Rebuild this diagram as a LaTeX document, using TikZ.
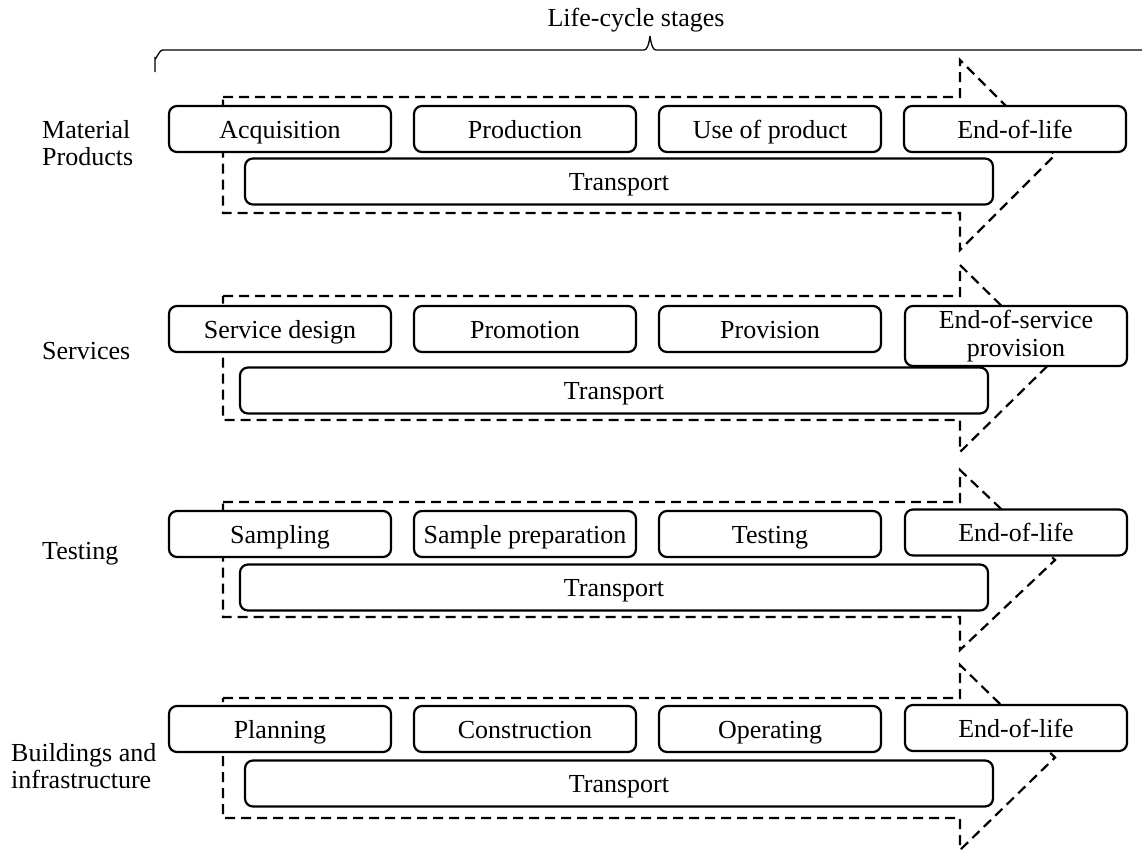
\documentclass[tikz,border=0pt]{standalone}
\usepackage{fontspec}
\setmainfont{Liberation Serif}
\usetikzlibrary{positioning}

\begin{document}
\begin{tikzpicture}[x=1pt,y=-1pt,node distance=23pt,
  stage/.style={draw,fill=white,rounded corners=8pt,line width=2.2pt,
    minimum width=222pt,minimum height=46pt,inner sep=2pt,outer sep=0pt,
    text height=21pt,text depth=3pt,
    font=\fontsize{26}{28}\selectfont},
  transport/.style={stage,minimum width=748pt},
  sector/.style={anchor=west,align=left,inner sep=0pt,
    font=\fontsize{26}{27}\selectfont}]

  \tikzstyle{lcarrow} = [draw,line width=2.2pt,dash pattern=on 10pt off 6pt]

  \useasboundingbox (0,0) rectangle (1142,854);

  % dashed block arrows, one per row
  \foreach \ya/\yb/\yc/\yd in {97/213/60/250, 296/420/265/452,
                               502/617/470/650, 698/818/665/850}
    \path[lcarrow] (223,\ya) -- (960,\ya) -- (960,\yc)
      -- (1055,{(\yc+\yd)/2}) -- (960,\yd) -- (960,\yb) -- (223,\yb) -- cycle;

  % material products
  \node[sector] (mat) at (42,143) {Material\\Products};
  \node[stage] (acq) at (280,129) {Acquisition};
  \node[stage] (prod) [right=of acq] {Production};
  \node[stage] (use) [right=of prod] {Use of product};
  \node[stage] (eol1) [right=of use] {End-of-life};
  \node[transport] (tr1) at (619,181.5) {Transport};

  % services
  \node[sector] (serv) at (42,351) {Services};
  \node[stage] (design) at (280,329) {Service design};
  \node[stage] (promo) [right=of design] {Promotion};
  \node[stage] (prov) [right=of promo] {Provision};
  \node[stage,minimum height=60pt,align=center,text height=,text depth=]
    (eos) at (1016,336) {End-of-service\\[0pt]provision};
  \node[transport] (tr2) at (614,390.5) {Transport};

  % testing
  \node[sector] (test) at (42,554) {Testing};
  \node[stage] (samp) at (280,534) {Sampling};
  \node[stage] (prep) [right=of samp] {Sample preparation};
  \node[stage] (testing) [right=of prep] {Testing};
  \node[stage] (eol3) at (1016,532.5) {End-of-life};
  \node[transport] (tr3) at (614,587.5) {Transport};

  % buildings and infrastructure
  \node[sector] (build) at (11,766) {Buildings and\\infrastructure};
  \node[stage] (plan) at (280,729) {Planning};
  \node[stage] (constr) [right=of plan] {Construction};
  \node[stage] (oper) [right=of constr] {Operating};
  \node[stage] (eol4) at (1016,728) {End-of-life};
  \node[transport] (tr4) at (619,783.5) {Transport};

  % life-cycle brace
  \draw[line width=1.3pt] (155,72) -- (155,58) to[out=-90,in=180] (163,50)
    -- (644,50) to[out=0,in=90] (650,37) to[out=90,in=180] (656,50)
    -- (1146,50);
  \node[font=\fontsize{26}{28}\selectfont] (lcs) at (636,20) {Life-cycle stages};
\end{tikzpicture}
\end{document}
